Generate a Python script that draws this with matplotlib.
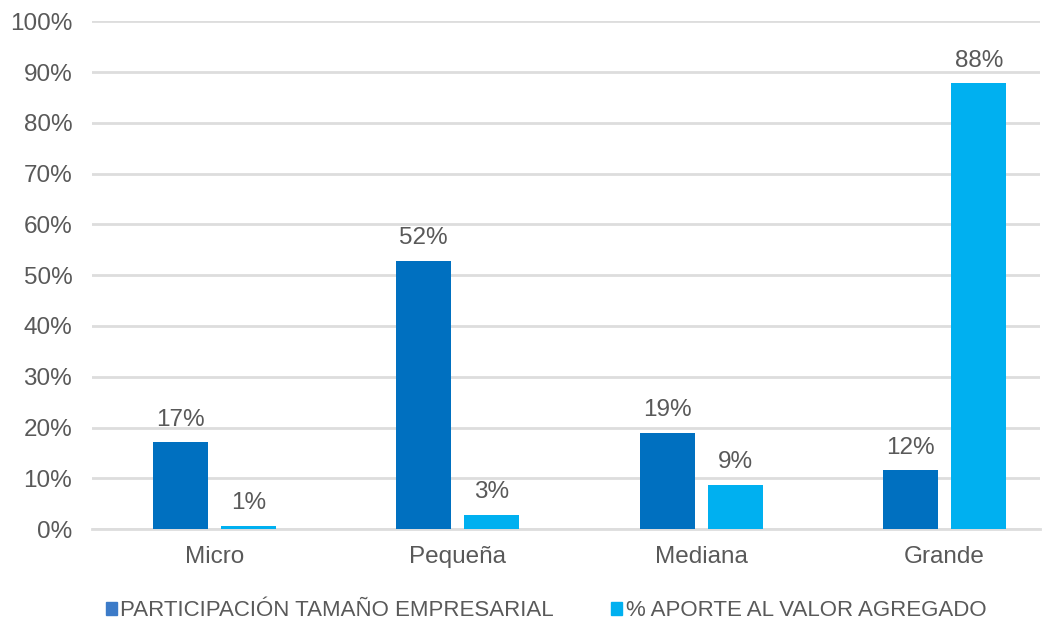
import matplotlib.pyplot as plt
import numpy as np

categorias = ["Micro", "Pequeña", "Mediana", "Grande"]
participacion = [17.1, 52.8, 18.9, 11.6]
aporte = [0.6, 2.8, 8.7, 87.8]
etiq_participacion = ["17%", "52%", "19%", "12%"]
etiq_aporte = ["1%", "3%", "9%", "88%"]
series = ["PARTICIPACIÓN TAMAÑO EMPRESARIAL", "% APORTE AL VALOR AGREGADO"]

plt.rcParams['font.family'] = ['Liberation Sans', 'DejaVu Sans']
gris = "#595959"

fig = plt.figure(figsize=(10.54, 6.24), dpi=100)
ax = fig.add_axes([0.087, 0.152, 0.900, 0.814])

x = np.arange(len(categorias))
w = 0.226
off = 0.14
b1 = ax.bar(x - off, participacion, width=w, color="#0070C0", zorder=3)
b2 = ax.bar(x + off, aporte, width=w, color="#00B0F0", zorder=3)

for bars, labs in [(b1, etiq_participacion), (b2, etiq_aporte)]:
    for r, t in zip(bars, labs):
        ax.text(r.get_x() + r.get_width() / 2, r.get_height() + 2.3, t,
                ha="center", va="bottom", fontsize=17.5, color=gris)

ax.set_ylim(0, 100)
ax.set_xlim(-0.503, 3.393)
ax.set_yticks(np.arange(0, 101, 10))
ax.set_yticklabels([f"{v}%" for v in range(0, 101, 10)])
ax.set_xticks(x)
ax.set_xticklabels(categorias)
ax.tick_params(axis="both", length=0, labelsize=17.5, labelcolor=gris)
ax.tick_params(axis="y", pad=14)
ax.tick_params(axis="x", pad=12)
ax.grid(axis="y", color="#DDDDDD", linewidth=2, zorder=0)
for s in ["top", "right", "left"]:
    ax.spines[s].set_visible(False)
ax.spines["bottom"].set_color("#DDDDDD")
ax.spines["bottom"].set_linewidth(2)

h1 = plt.Rectangle((0, 0), 1, 1, color="#3C7BC8")
h2 = plt.Rectangle((0, 0), 1, 1, color="#00B0F0")
fig.legend([h1, h2], series, loc="center", bbox_to_anchor=(0.518, 0.021), ncol=2,
           frameon=False, fontsize=16, labelcolor=gris, handlelength=0.5,
           handleheight=0.5, handletextpad=0.15, columnspacing=2.6)

fig.savefig("out.png", dpi=100)
